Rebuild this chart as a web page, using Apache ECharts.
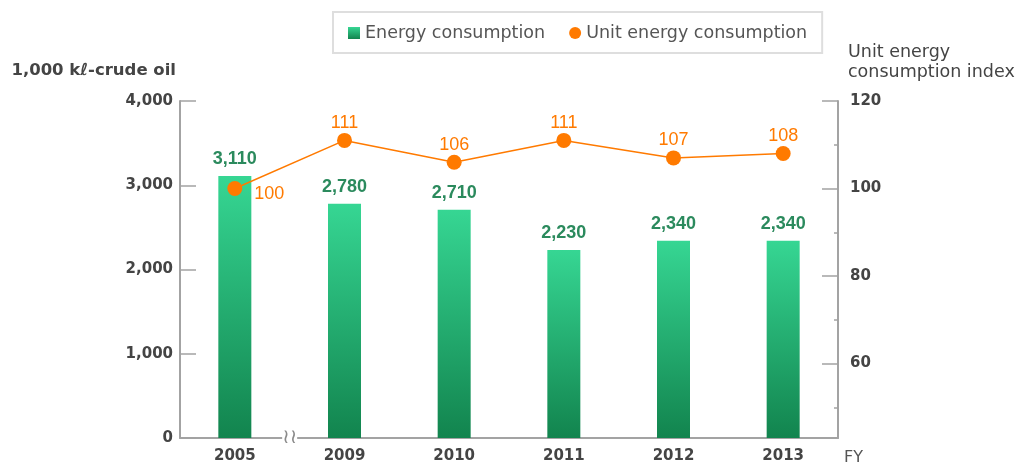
<!DOCTYPE html>
<html>
<head>
<meta charset="utf-8">
<script src="https://cdn.jsdelivr.net/npm/echarts@6/dist/echarts.min.js"></script>
<style>
  html, body { margin: 0; padding: 0; background: #fff; }
  #main { width: 1021px; height: 466px; }
</style>
</head>
<body>
<div id="main"></div>
<script>
var years = ['2005', '2009', '2010', '2011', '2012', '2013'];
var energy = [3110, 2780, 2710, 2230, 2340, 2340];
var unitIndex = [100, 111, 106, 111, 107, 108];
var rightTicks = [60, 80, 100, 120];
var rightMinorTicks = [50, 70, 90, 110];

var FONT = '"DejaVu Sans", sans-serif';
var LABEL_FONT = '"Liberation Sans", Arial, sans-serif';
var GREEN_TEXT = '#2b8a5d';
var ORANGE = '#ff7a00';
var AXIS_GRAY = '#a3a3a3';

function fmt(v) {
    return String(v).replace(/\B(?=(\d{3})+(?!\d))/g, ',');
}

var chart = echarts.init(document.getElementById('main'));

var option = {
    backgroundColor: '#fff',
    textStyle: { fontFamily: FONT },
    legend: {
        top: 12,
        left: 333,
        padding: [12, 15, 11, 15],
        borderColor: '#dedede',
        borderWidth: 2,
        itemWidth: 12,
        itemHeight: 12,
        itemGap: 24,
        textStyle: { fontFamily: FONT, fontSize: 17.5, color: '#555' },
        data: [
            { name: 'Energy consumption', icon: 'rect' },
            { name: 'Unit energy consumption', icon: 'circle' }
        ]
    },
    grid: { left: 180, right: 183, top: 101, bottom: 28 },
    xAxis: {
        type: 'category',
        data: years,
        name: 'FY',
        nameGap: 6,
        nameTextStyle: { fontFamily: FONT, fontSize: 16, color: '#555', align: 'left', verticalAlign: 'top', padding: [12, 0, 0, 0] },
        axisLine: { lineStyle: { color: AXIS_GRAY, width: 2 } },
        axisTick: {
            inside: true, length: 18,
            lineStyle: { color: AXIS_GRAY, width: 1.5 },
            // no tick at the 2005/2009 gap, a break mark sits there instead
            interval: function (idx) { return idx !== 1; }
        },
        axisLabel: { fontFamily: FONT, fontSize: 15, fontWeight: 'bold', color: '#444', margin: 11 }
    },
    yAxis: [
        {
            type: 'value',
            min: 0, max: 4000, interval: 1000,
            name: '1,000 kℓ-crude oil',
            nameGap: 22,
            nameTextStyle: { fontFamily: FONT, fontSize: 16.5, fontWeight: 'bold', color: '#444', align: 'right', padding: [0, 4, 0, 0] },
            splitLine: { show: false },
            axisLine: { show: true, lineStyle: { color: AXIS_GRAY, width: 2 } },
            axisTick: { show: true, inside: true, length: 16, lineStyle: { color: AXIS_GRAY, width: 1.5 } },
            axisLabel: { fontFamily: FONT, fontSize: 15, fontWeight: 'bold', color: '#444', margin: 7, formatter: fmt }
        },
        {
            type: 'value',
            position: 'right',
            min: 43, max: 120,
            name: 'Unit energy\nconsumption index',
            nameGap: 19,
            nameTextStyle: { fontFamily: FONT, fontSize: 17.5, color: '#444', align: 'left', verticalAlign: 'bottom', lineHeight: 20, padding: [0, 0, 0, 10] },
            splitLine: { show: false },
            axisLine: { show: true, lineStyle: { color: AXIS_GRAY, width: 2 } },
            axisTick: { show: true, inside: true, length: 16, customValues: rightTicks, lineStyle: { color: AXIS_GRAY, width: 1.5 } },
            axisLabel: { fontFamily: FONT, fontSize: 15, fontWeight: 'bold', color: '#444', margin: 12, customValues: rightTicks }
        },
        {
            // minor ticks on the right axis
            type: 'value',
            position: 'right',
            min: 43, max: 120,
            splitLine: { show: false },
            axisLine: { show: false },
            axisLabel: { show: false },
            axisTick: { show: true, inside: true, length: 4, customValues: rightMinorTicks, lineStyle: { color: AXIS_GRAY, width: 1.5 } }
        }
    ],
    series: [
        {
            name: 'Energy consumption',
            type: 'bar',
            yAxisIndex: 0,
            barWidth: 33,
            data: energy,
            itemStyle: {
                color: new echarts.graphic.LinearGradient(0, 0, 0, 1, [
                    { offset: 0, color: '#36d693' },
                    { offset: 1, color: '#12844e' }
                ])
            },
            label: {
                show: true, position: 'top', distance: 8,
                fontFamily: LABEL_FONT, fontSize: 18, fontWeight: 'bold', color: GREEN_TEXT,
                formatter: function (p) { return fmt(p.value); }
            }
        },
        {
            name: 'Unit energy consumption',
            type: 'line',
            yAxisIndex: 1,
            symbol: 'circle',
            symbolSize: 15,
            color: ORANGE,
            lineStyle: { color: ORANGE, width: 1.5 },
            itemStyle: { color: ORANGE },
            data: unitIndex.map(function (v, i) {
                if (i === 0) {
                    return { value: v, label: { position: 'right', distance: 12, offset: [0, 5] } };
                }
                return v;
            }),
            label: {
                show: true, position: 'top', distance: 1,
                fontFamily: LABEL_FONT, fontSize: 18, color: ORANGE
            },
            z: 5
        }
    ]
};
chart.setOption(option);

// break mark between 2005 and 2009 on the x axis
var p0 = chart.convertToPixel({ xAxisIndex: 0 }, years[0]);
var p1 = chart.convertToPixel({ xAxisIndex: 0 }, years[1]);
var baseY = chart.convertToPixel({ yAxisIndex: 0 }, 0);
chart.setOption({
    graphic: [{
        type: 'text',
        x: (p0 + p1) / 2,
        y: baseY,
        style: {
            text: '≀≀',
            font: '20px "DejaVu Sans"',
            fill: '#8a8a8a',
            align: 'center',
            verticalAlign: 'middle',
            backgroundColor: '#fff',
            padding: [0, 0]
        },
        z: 100
    }]
});
</script>
</body>
</html>
